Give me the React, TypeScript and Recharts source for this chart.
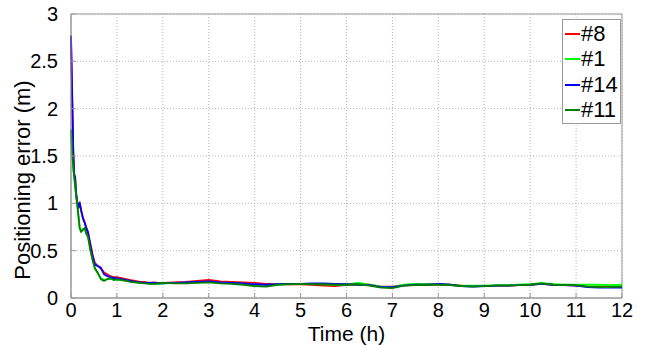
import React from 'react';
import { LineChart, Line, XAxis, YAxis, CartesianGrid, ReferenceArea } from 'recharts';

const times = [
  0, 0.03, 0.05, 0.07, 0.09, 0.11, 0.13, 0.16, 0.19, 0.22, 0.26, 0.3, 0.33, 0.37, 0.42, 0.47, 0.52, 0.58, 0.65, 0.72, 0.79, 0.86, 0.93, 1.0,
  1.1, 1.2, 1.3, 1.4, 1.5, 1.6, 1.7, 1.8, 1.9, 2.0,
  2.25, 2.5, 2.75, 3, 3.25, 3.5, 3.75, 4, 4.25, 4.5, 4.75, 5, 5.25, 5.5, 5.75, 6, 6.25, 6.5, 6.75, 7,
  7.25, 7.5, 7.75, 8, 8.25, 8.5, 8.75, 9, 9.25, 9.5, 9.75, 10, 10.25, 10.5, 10.75, 11, 11.25, 11.5, 11.75, 12,
];

const sat8 = [
  2.75, 2.0, 1.52, 1.31, 1.27, 1.10, 1.02, 0.96, 1.00, 0.92, 0.85, 0.80, 0.75, 0.70, 0.58, 0.46, 0.37, 0.34, 0.31, 0.27, 0.25, 0.23, 0.22, 0.22,
  0.21, 0.20, 0.19, 0.18, 0.17, 0.17, 0.16, 0.165, 0.16, 0.16,
  0.165, 0.17, 0.18, 0.19, 0.175, 0.17, 0.165, 0.16, 0.15, 0.15, 0.145, 0.145, 0.14, 0.13, 0.125, 0.14, 0.145, 0.14, 0.12, 0.12,
  0.135, 0.14, 0.14, 0.145, 0.14, 0.13, 0.125, 0.125, 0.13, 0.13, 0.135, 0.14, 0.15, 0.14, 0.135, 0.13, 0.12, 0.12, 0.115, 0.12,
];

const sat1 = [
  1.76, 1.50, 1.36, 1.27, 1.18, 1.08, 1.0, 0.87, 0.73, 0.71, 0.73, 0.73, 0.69, 0.64, 0.52, 0.41, 0.32, 0.26, 0.21, 0.19, 0.20, 0.20, 0.20, 0.19,
  0.19, 0.185, 0.175, 0.165, 0.16, 0.16, 0.155, 0.15, 0.15, 0.155,
  0.16, 0.16, 0.165, 0.17, 0.16, 0.155, 0.15, 0.14, 0.135, 0.145, 0.15, 0.15, 0.15, 0.145, 0.14, 0.145, 0.16, 0.14, 0.12, 0.115,
  0.14, 0.15, 0.145, 0.145, 0.14, 0.13, 0.13, 0.13, 0.135, 0.135, 0.14, 0.145, 0.16, 0.145, 0.14, 0.14, 0.14, 0.14, 0.135, 0.14,
];

const sat14 = [
  2.77, 2.05, 1.55, 1.30, 1.28, 1.12, 1.04, 0.95, 1.01, 0.93, 0.84, 0.79, 0.74, 0.69, 0.56, 0.44, 0.35, 0.34, 0.32, 0.25, 0.23, 0.22, 0.21, 0.21,
  0.20, 0.19, 0.18, 0.17, 0.165, 0.16, 0.16, 0.16, 0.155, 0.155,
  0.16, 0.165, 0.17, 0.175, 0.165, 0.16, 0.155, 0.145, 0.14, 0.145, 0.15, 0.15, 0.155, 0.155, 0.15, 0.145, 0.14, 0.135, 0.115, 0.115,
  0.13, 0.14, 0.14, 0.15, 0.14, 0.125, 0.12, 0.125, 0.13, 0.13, 0.135, 0.14, 0.15, 0.14, 0.135, 0.13, 0.115, 0.11, 0.11, 0.11,
];

const sat11 = [
  1.78, 1.52, 1.38, 1.28, 1.2, 1.10, 1.02, 0.88, 0.74, 0.70, 0.72, 0.74, 0.68, 0.65, 0.51, 0.40, 0.31, 0.27, 0.20, 0.18, 0.20, 0.21, 0.19, 0.20,
  0.19, 0.18, 0.17, 0.165, 0.16, 0.155, 0.15, 0.15, 0.155, 0.16,
  0.155, 0.155, 0.16, 0.165, 0.155, 0.15, 0.14, 0.125, 0.12, 0.14, 0.145, 0.15, 0.145, 0.145, 0.14, 0.14, 0.145, 0.13, 0.11, 0.105,
  0.13, 0.135, 0.14, 0.14, 0.135, 0.125, 0.12, 0.125, 0.13, 0.13, 0.135, 0.14, 0.155, 0.14, 0.135, 0.135, 0.12, 0.115, 0.115, 0.12,
];

const xTicks = [0, 1, 2, 3, 4, 5, 6, 7, 8, 9, 10, 11, 12];
const yTicks = [0, 0.5, 1, 1.5, 2, 2.5, 3];

const seriesDefs = [
  { key: 'sat8', name: '#8', color: '#ff0000' },
  { key: 'sat1', name: '#1', color: '#00ff00' },
  { key: 'sat14', name: '#14', color: '#0000ff' },
  { key: 'sat11', name: '#11', color: '#008000' },
];

const data = times.map((t, i) => ({
  t,
  sat8: sat8[i],
  sat1: sat1[i],
  sat14: sat14[i],
  sat11: sat11[i],
}));

const FONT = '"Liberation Sans", Arial, sans-serif';
const FRAME = '#9a9a9a';

const LegendBox = () => (
  <div
    style={{
      position: 'absolute',
      left: 562,
      top: 19,
      width: 59,
      height: 105,
      border: `1px solid ${FRAME}`,
      background: '#fff',
      fontFamily: FONT,
      fontSize: 22,
      color: '#000',
      boxSizing: 'border-box',
      paddingTop: 1,
    }}
  >
    {seriesDefs.map((s) => (
      <div key={s.key} style={{ display: 'flex', alignItems: 'center', height: 25.5 }}>
        <div style={{ width: 15, height: 2, background: s.color, marginLeft: 2, marginRight: 1 }} />
        <span style={{ lineHeight: '22px' }}>{s.name}</span>
      </div>
    ))}
  </div>
);

const YLabel = (props: any) => {
  const vb = props.viewBox || { x: 0, y: 0, width: 0, height: 0 };
  const cx = 22;
  const cy = vb.y + vb.height / 2 + 24;
  return (
    <text
      x={cx}
      y={cy}
      transform={`rotate(-90, ${cx}, ${cy})`}
      textAnchor="middle"
      dominantBaseline="central"
      fontFamily={FONT}
      fontSize={22}
      fill="#000"
    >
      Positioning error (m)
    </text>
  );
};

const XLabel = (props: any) => {
  const vb = props.viewBox || { x: 0, y: 0, width: 0, height: 0 };
  return (
    <text
      x={vb.x + vb.width / 2}
      y={333}
      textAnchor="middle"
      dominantBaseline="central"
      fontFamily={FONT}
      fontSize={21}
      fill="#000"
    >
      Time (h)
    </text>
  );
};

export default function App() {
  return (
    <div style={{ position: 'absolute', left: 0, top: 0, width: 646, height: 345, background: '#fff' }}>
      <LineChart
        width={646}
        height={345}
        data={data}
        margin={{ top: 14, right: 24, left: 0, bottom: 0 }}
      >
        <CartesianGrid stroke="#b5b5b5" strokeDasharray="1 2" />
        <XAxis
          dataKey="t"
          type="number"
          domain={[0, 12]}
          ticks={xTicks}
          interval={0}
          height={47}
          axisLine={{ stroke: FRAME }}
          tickLine={{ stroke: FRAME, transform: 'translate(0,-5)' }}
          tickSize={5}
          tickMargin={0}
          tick={{ fill: '#000', fontSize: 20, fontFamily: FONT }}
          label={<XLabel />}
        />
        <YAxis
          type="number"
          domain={[0, 3]}
          ticks={yTicks}
          interval={0}
          width={71}
          axisLine={{ stroke: FRAME }}
          tickLine={{ stroke: FRAME, transform: 'translate(5,0)' }}
          tickSize={5}
          tickMargin={8}
          tick={{ fill: '#000', fontSize: 20, fontFamily: FONT }}
          label={<YLabel />}
        />
        <ReferenceArea x1={0} x2={12} y1={0} y2={3} fill="none" stroke={FRAME} strokeWidth={1} ifOverflow="visible" />
        {seriesDefs.map((s) => (
          <Line
            key={s.key}
            type="linear"
            dataKey={s.key}
            name={s.name}
            stroke={s.color}
            strokeWidth={1.8}
            dot={false}
            isAnimationActive={false}
          />
        ))}
      </LineChart>
      <LegendBox />
    </div>
  );
}
